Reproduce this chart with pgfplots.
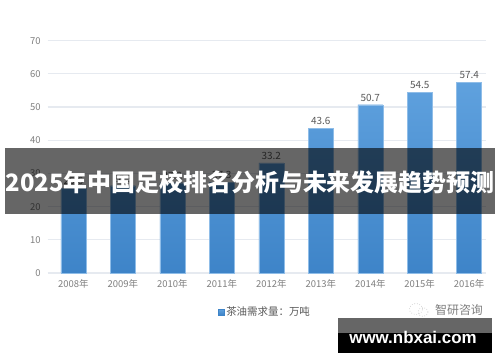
\documentclass[border=0pt]{standalone}
\usepackage{pgfplots}
\pgfplotsset{compat=1.18}
\usepackage{fontspec}
\setmainfont{Noto Sans CJK SC}
\newfontfamily\wm{Liberation Sans}
\definecolor{barTop}{HTML}{5FA1DE}
\definecolor{barBot}{HTML}{3E84C8}
\definecolor{tickc}{HTML}{7F7F7F}
\definecolor{valc}{HTML}{595959}
\definecolor{gridc}{HTML}{E6EAF0}
\begin{document}
\begin{tikzpicture}[x=1bp,y=1bp]
\fill[white] (0,0) rectangle (500,362);
\begin{axis}[
  at={(47.7bp,89bp)}, anchor=south west, scale only axis,
  width=438.3bp, height=232.3bp,
  xmin=-0.52, xmax=8.34, ymin=0, ymax=70,
  ytick={0,10,...,70},
  xtick={0,...,8},
  xticklabels={2008年,2009年,2010年,2011年,2012年,2013年,2014年,2015年,2016年},
  ybar, bar width=25bp,
  axis line style={draw=none},
  major tick length=0pt,
  ymajorgrids, grid style={gridc, line width=1.2bp},
  tick label style={font=\fontsize{9.5}{11}\selectfont, text=tickc},
  /pgf/number format/assume math mode=true,
  yticklabel style={xshift=-3.5bp},
  xticklabel style={yshift=-2.5bp},
  nodes near coords={\pgfmathprintnumber[fixed,fixed zerofill,precision=1]{\pgfplotspointmeta}},
  nodes near coords style={font=\fontsize{10}{11}\selectfont, text=valc, yshift=0bp},
  legend style={at={(0.496,-0.168)}, anchor=center, draw=none, fill=none,
    font=\fontsize{10.5}{12}\selectfont, text=valc, inner sep=0pt},
]
\addplot[draw=barTop!70!white, line width=0.4bp, top color=barTop, bottom color=barBot,
  legend image code/.code={\fill[barBot] (0bp,-2.8bp) rectangle (5.6bp,2.8bp);}]
  coordinates {(0,25.6) (1,26.3) (2,27.2) (3,27.3) (4,33.2) (5,43.6) (6,50.7) (7,54.5) (8,57.4)};
\addlegendentry{茶油需求量：万吨}
\end{axis}
% overlay banner
\fill[black, opacity=0.6] (5,148) rectangle (495,214);
\node[white, font=\fontsize{24}{24}\selectfont\bfseries] at (250,180) {2025年中国足校排名分析与未来发展趋势预测};
% watermark
\draw[black!25, line width=0.6bp, dotted] (416,53) ellipse (6.5 and 5.5);
\draw[black!25, line width=0.6bp, dotted] (423,50) ellipse (5 and 4.5);
\node[text=black!50, font=\fontsize{12}{12}\selectfont] at (459,52) {智研咨询};
\fill[black] (338,9) rectangle (492,44);
\fill[black!60] (338,29) rectangle (492,44);
\node[white, font=\wm\bfseries\fontsize{17}{17}\selectfont] at (413,25) {www.nbxai.com};
\end{tikzpicture}
\end{document}
